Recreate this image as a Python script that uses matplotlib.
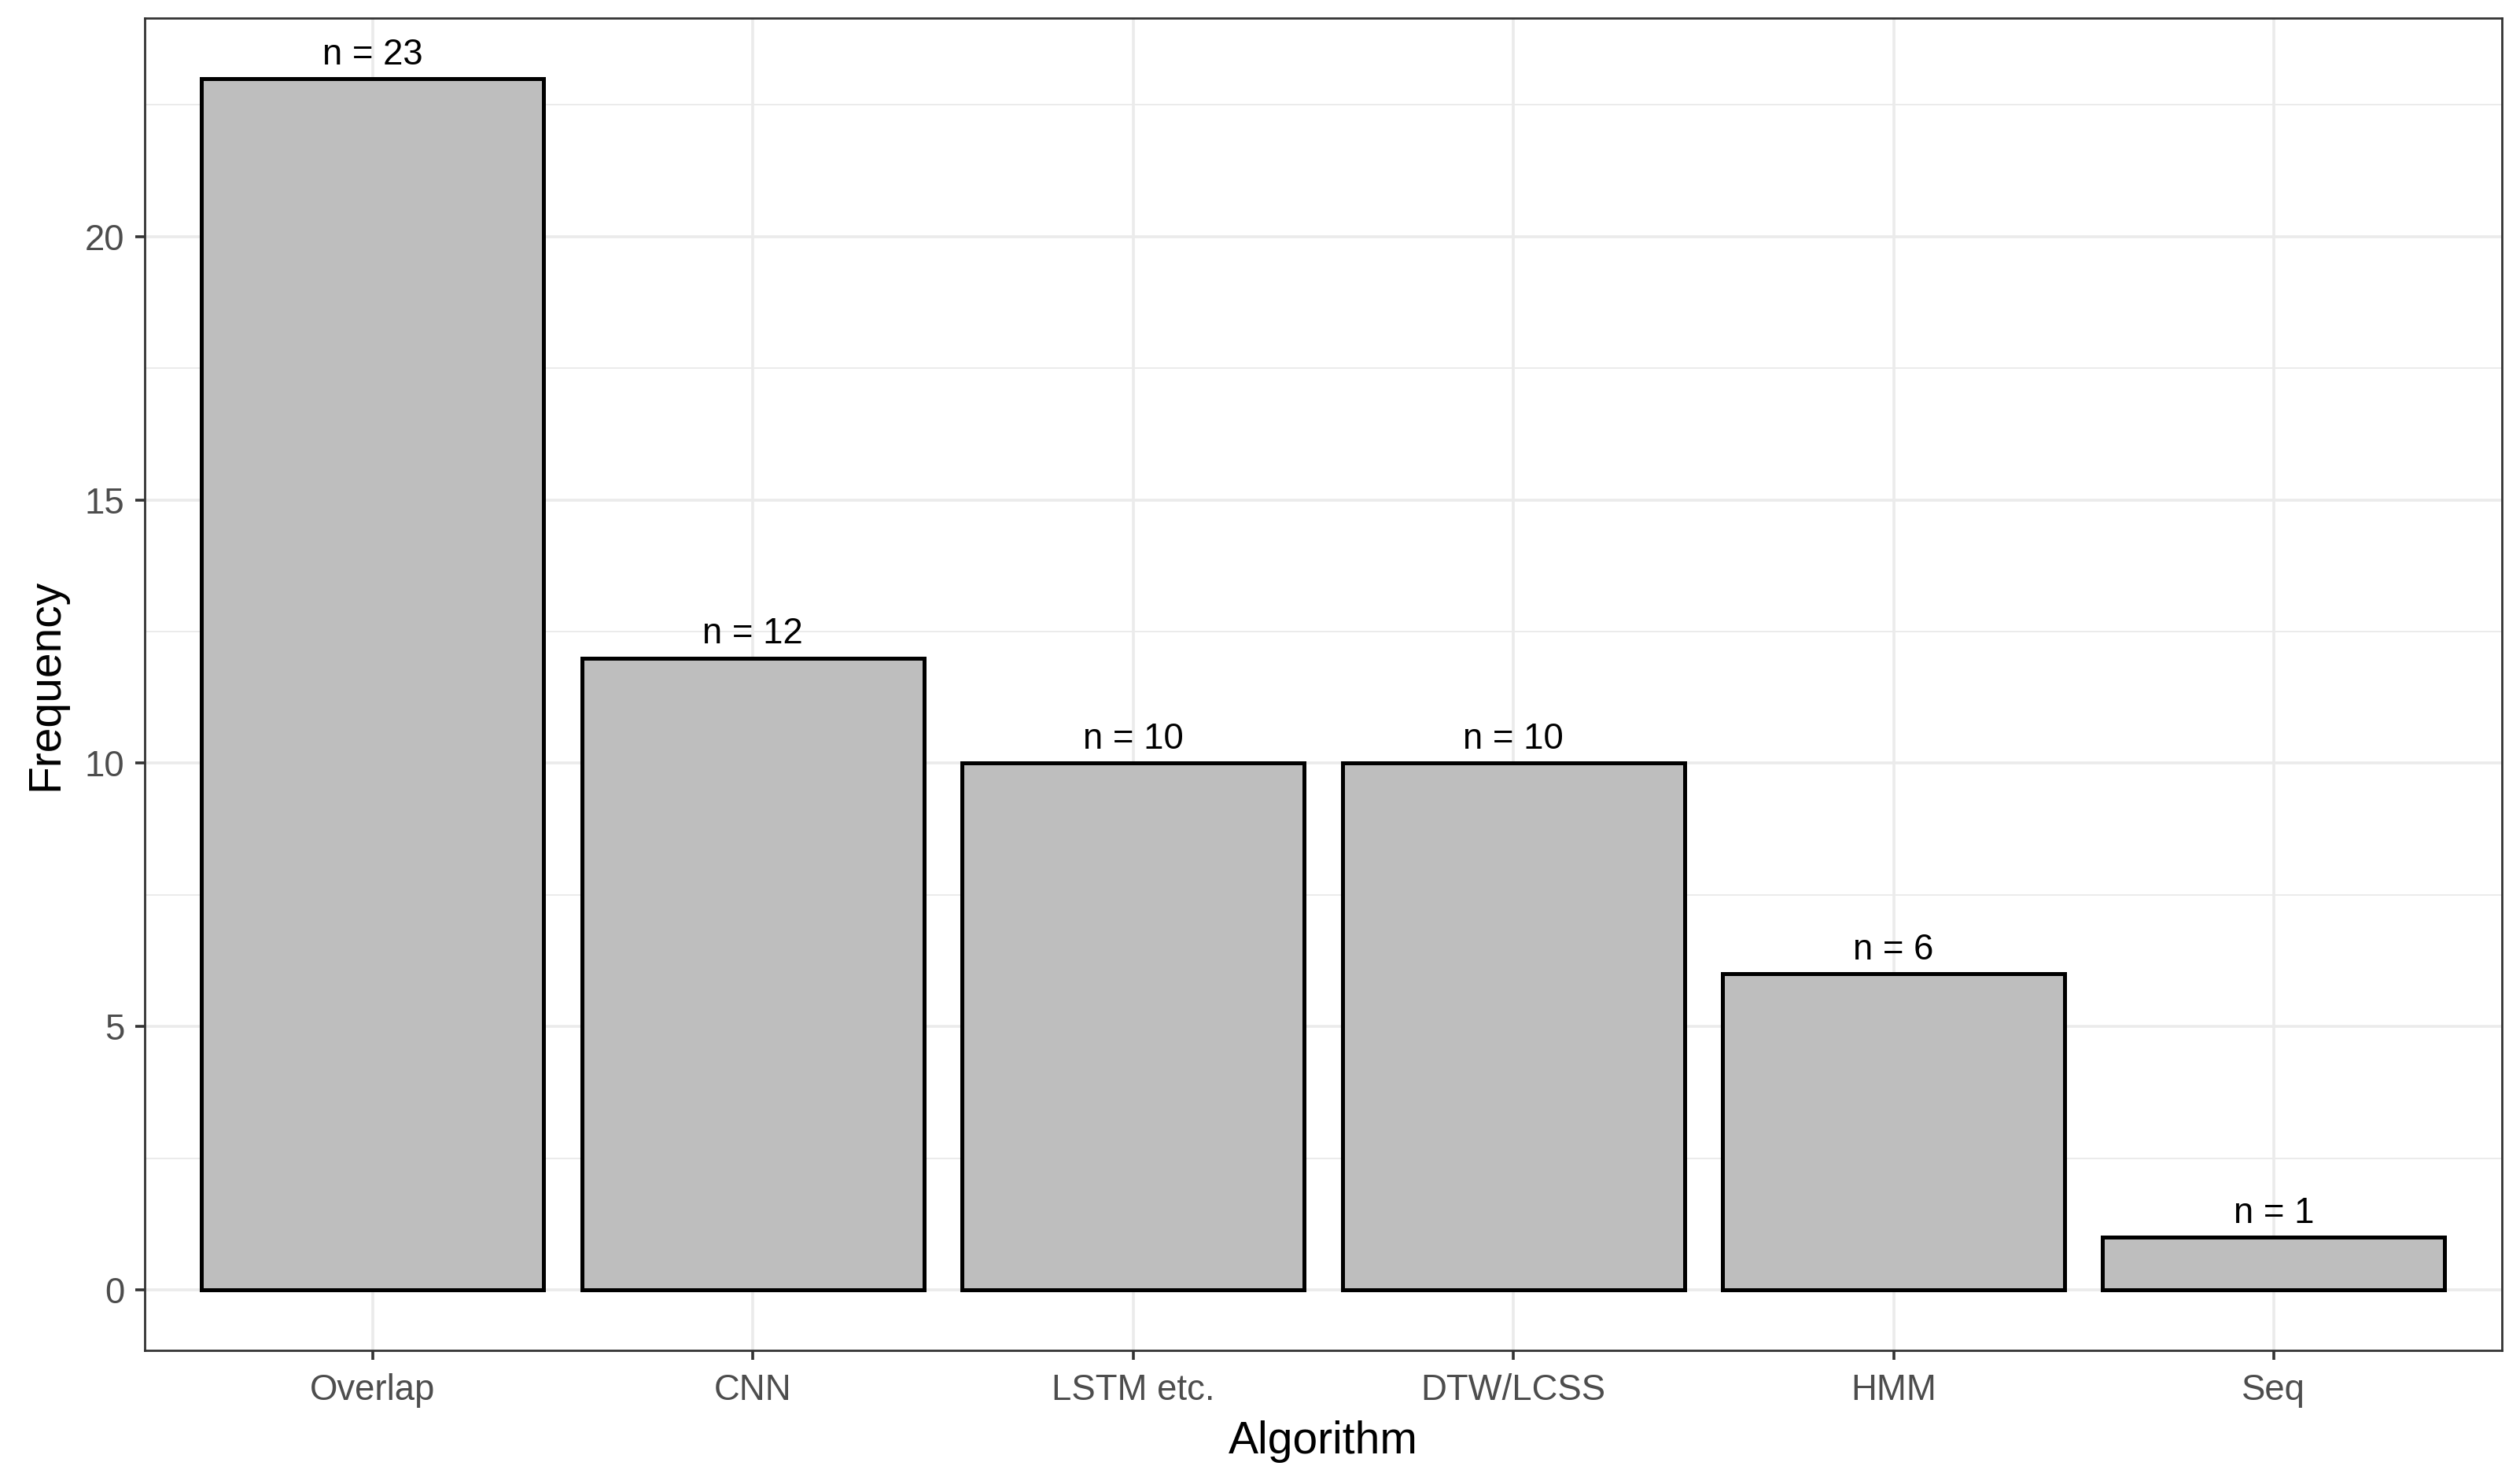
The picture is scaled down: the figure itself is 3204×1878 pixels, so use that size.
import numpy as np
import matplotlib.pyplot as plt

# bar chart of algorithm counts, ggplot theme_bw look
algorithms = ["Overlap", "CNN", "LSTM etc.", "DTW/LCSS", "HMM", "Seq"]
counts = [23, 12, 10, 10, 6, 1]
y_ticks = [0, 5, 10, 15, 20]
y_minor = [2.5, 7.5, 12.5, 17.5, 22.5]

plt.rcParams['font.family'] = ['Liberation Sans', 'DejaVu Sans']

fig = plt.figure(figsize=(16.02, 9.39), dpi=200, facecolor='white')
ax = fig.add_axes([0.0574, 0.0857, 0.9354, 0.9021])

x = np.arange(1, len(algorithms) + 1)
ax.bar(x, counts, width=0.9, color='#BEBEBE', edgecolor='black', linewidth=1.8, zorder=3)

for xi, c in zip(x, counts):
    ax.annotate(f"n = {c}", (xi, c), xytext=(0, 3), textcoords='offset points',
                ha='center', va='bottom', fontsize=16.4, color='black', zorder=4)

ymax = max(counts)
ax.set_xlim(0.4, len(algorithms) + 0.6)
ax.set_ylim(-0.05 * ymax, 1.05 * ymax)

ax.set_xticks(x)
ax.set_xticklabels(algorithms)
ax.set_yticks(y_ticks)
ax.set_yticks(y_minor, minor=True)

ax.grid(True, which='major', color='#EBEBEB', linewidth=1.3, zorder=0)
ax.grid(True, which='minor', axis='y', color='#EBEBEB', linewidth=0.7, zorder=0)
ax.set_axisbelow(True)

ax.tick_params(axis='both', which='major', length=4.3, width=1.3, color='#333333',
               labelcolor='#4D4D4D', labelsize=16.4, pad=5)
ax.tick_params(axis='x', which='major', pad=6)
ax.tick_params(axis='both', which='minor', length=0)

for s in ax.spines.values():
    s.set_color('#333333')
    s.set_linewidth(1.0)

ax.set_xlabel("Algorithm", fontsize=20.5, color='black', labelpad=6)
ax.set_ylabel("Frequency", fontsize=20.5, color='black', labelpad=8)

fig.savefig("out.png", dpi=200, facecolor='white')
